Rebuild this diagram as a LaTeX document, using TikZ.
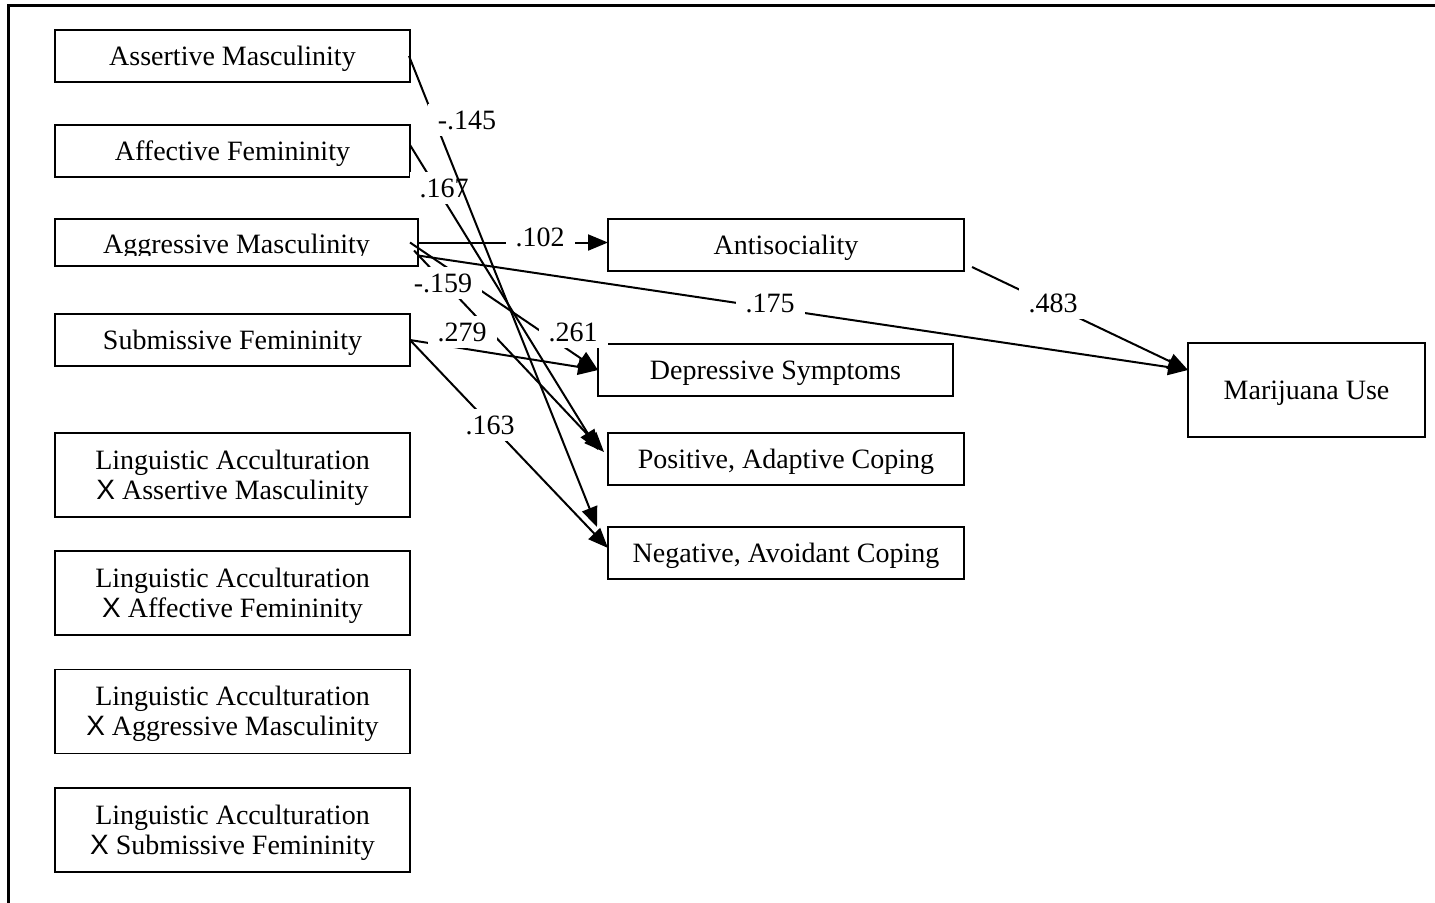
\documentclass[tikz,border=0pt]{standalone}
\usepackage{fontspec}
\setmainfont{Liberation Serif}
\newfontfamily\xsans{Liberation Sans}
\usetikzlibrary{arrows.meta,calc}
\newcommand{\latext}[1]{\raisebox{0pt}[\dimexpr\height+3pt\relax][\depth]{\begin{tabular}{@{}c@{}}Linguistic Acculturation\\{\xsans X} #1\end{tabular}}}
\begin{document}
\begin{tikzpicture}[x=0.5pt,y=-0.5pt,
  box/.style={draw, line width=0.75pt, inner sep=0pt, outer sep=0pt, font=\fontsize{14}{15}\selectfont},
  sbox/.style={box, text depth=0pt, minimum height=26pt},
  labox/.style={box, minimum width=177.5pt, minimum height=42pt},
  lbl/.style={fill=white, inner xsep=5pt, inner ysep=3.3pt, font=\fontsize{14}{15}\selectfont},
  conn/.style={line width=1pt, -{Triangle[length=10pt,width=8pt]}},
  frameline/.style={line width=1.5pt}]
\useasboundingbox (0,0) rectangle (1435,902);
\coordinate (fb) at (8,903);
\coordinate (ftl) at (8,5);
\coordinate (ftr) at (1436,5);
\draw[frameline] (fb) -- (ftl) -- (ftr);

% left column
\node[sbox, minimum width=177.5pt] (am) at (232.5,56) {Assertive Masculinity};
\node[sbox, minimum width=177.5pt] (af) at (232.5,151) {Affective Femininity};
\node[box, minimum width=181.5pt, minimum height=23.5pt] (ag) at (236.5,242.5) {};
\begin{scope}
\clip (55,219) rectangle (418,255);
\node[font=\fontsize{14}{15}\selectfont, text depth=0pt, inner sep=0pt] (agt) at (236.5,244) {Aggressive Masculinity};
\end{scope}
\node[sbox, minimum width=177.5pt] (sf) at (232.5,340) {Submissive Femininity};
\node[labox] (la1) at (232.5,475) {\latext{Assertive Masculinity}};
\node[labox] (la2) at (232.5,593) {\latext{Affective Femininity}};
\node[labox] (la3) at (232.5,711.5) {\latext{Aggressive Masculinity}};
\node[labox] (la4) at (232.5,830) {\latext{Submissive Femininity}};

% middle column
\node[sbox, minimum width=178pt] (anti) at (786,245) {Antisociality};
\node[sbox, minimum width=177.5pt] (dep) at (775.5,370) {Depressive Symptoms};
\node[sbox, minimum width=178pt] (pos) at (786,459) {Positive, Adaptive Coping};
\node[sbox, minimum width=178pt] (neg) at (786,553) {Negative, Avoidant Coping};

% right
\node[box, text depth=0pt, minimum width=118.5pt, minimum height=47pt] (mj) at (1306.5,390) {Marijuana Use};

% connector end points
\coordinate (e1s) at ($(am.east)+(-1,0)$);
\coordinate (e1t) at ($(neg.north west)+(-11,0)$);
\coordinate (e2s) at ($(af.east)+(0,-6)$);
\coordinate (e2t) at ($(pos.west)+(-10,-9)$);
\coordinate (e4s) at ($(ag.east)+(-8,0)$);
\coordinate (e5s) at ($(ag.east)+(-4,8)$);
\coordinate (e5t) at ($(pos.west)+(-4,-7)$);
\coordinate (e6s) at ($(ag.east)+(0,13)$);
\coordinate (e6t) at ($(mj.west)+(0,-20)$);
\coordinate (e8t) at ($(neg.west)+(0,-5)$);
\coordinate (e9s) at ($(anti.south east)+(8,-4)$);

% connectors
\draw[conn] (e2s) -- (e2t);
\draw[conn] (ag.east) -- (ag.east -| anti.west);
\draw[conn] (e4s) -- (dep.west);
\draw[conn] (e5s) -- (e5t);
\draw[conn] (e6s) -- (e6t);
\draw[conn] (sf.east) -- (dep.west);
\draw[conn] (sf.east) -- (e8t);
\draw[conn] (e9s) -- (e6t);

% labels
\node[lbl] (l167) at (444,188) {.167};
\node[lbl] (l102) at (540,237) {.102};
\node[lbl] (l261) at (573,332) {.261};
\node[lbl] (l159) at (443,283) {-.159};
\node[lbl] (l175) at (770,303) {.175};
\node[lbl] (l279) at (462,332) {.279};
\node[lbl] (l163) at (490,425) {.163};
\node[lbl] (l483) at (1053,303) {.483};

\draw[conn] (e1s) -- (e1t);
\node[lbl] (l145) at (467,120) {-.145};
\end{tikzpicture}
\end{document}
